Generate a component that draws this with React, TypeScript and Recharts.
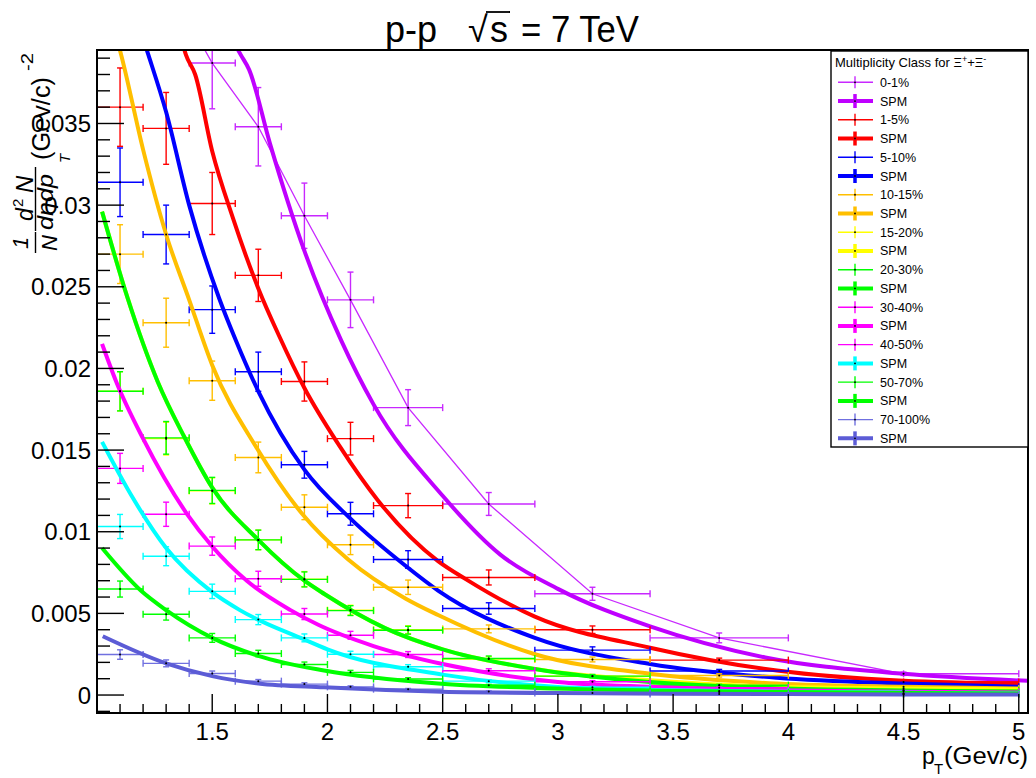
import React from "react"
import { ComposedChart, Line, Scatter, ErrorBar, XAxis, YAxis } from "recharts"

const FONT = "'Liberation Sans', Arial, Helvetica, sans-serif"

// pT bins (GeV/c): centres and x errors
const pT = [1.1, 1.3, 1.5, 1.7, 1.9, 2.1, 2.35, 2.7, 3.15, 3.7, 4.5]
const pTErrLow = [0.1, 0.1, 0.1, 0.1, 0.1, 0.1, 0.15, 0.2, 0.25, 0.3, 0]
const pTErrHigh = [0.1, 0.1, 0.1, 0.1, 0.1, 0.1, 0.15, 0.2, 0.25, 0.3, 0.5]

// measured yields and y errors per multiplicity class
const y0_1 = [0.05, 0.0437, 0.0387, 0.0348, 0.02935, 0.0242, 0.0176, 0.0117, 0.0062, 0.0035, 0.0013]
const e0_1 = [0.0035, 0.0032, 0.0028, 0.0024, 0.002, 0.0017, 0.0011, 0.0007, 0.0004, 0.0003, 0.0001]
const y1_5 = [0.036, 0.0347, 0.0301, 0.0257, 0.0192, 0.0157, 0.0116, 0.0072, 0.004, 0.00214, 0.0008]
const e1_5 = [0.0024, 0.0022, 0.0019, 0.0016, 0.0012, 0.001, 0.00074, 0.00046, 0.00023, 0.00012, 0.0001]
const y5_10 = [0.0314, 0.0282, 0.0236, 0.0198, 0.0141, 0.0111, 0.0083, 0.0053, 0.00275, 0.00147, 0.0005]
const e5_10 = [0.0021, 0.0018, 0.00145, 0.0012, 0.00082, 0.0007, 0.00054, 0.00035, 0.0002, 0.0001, 0.00005]
const y10_15 = [0.027, 0.0228, 0.01925, 0.01455, 0.0115, 0.0092, 0.0066, 0.00405, 0.00218, 0.0012, 0.0004]
const e10_15 = [0.0018, 0.0015, 0.0012, 0.00094, 0.00076, 0.0006, 0.00044, 0.00024, 0.00015, 0.0001, 0.00005]
const y15_20 = [0.0186, 0.0157, 0.0125, 0.0095, 0.0071, 0.0052, 0.004, 0.0022, 0.00115, 0.0006, 0.0003]
const e15_20 = [0.0012, 0.001, 0.0008, 0.0006, 0.00046, 0.0003, 0.00024, 0.00015, 0.0001, 0.00006, 0.00003]
const y20_30 = [0.0186, 0.01575, 0.01253, 0.0095, 0.00708, 0.00517, 0.00397, 0.00224, 0.00116, 0.0006, 0.0003]
const e20_30 = [0.0012, 0.001, 0.0008, 0.0006, 0.00046, 0.0003, 0.00024, 0.00015, 0.0001, 0.00006, 0.00003]
const y30_40 = [0.01388, 0.01107, 0.00912, 0.00712, 0.00496, 0.00366, 0.00248, 0.00149, 0.00081, 0.00045, 0.0002]
const e30_40 = [0.00092, 0.00074, 0.00056, 0.00046, 0.00034, 0.00024, 0.00018, 0.00012, 0.00007, 0.00004, 0.00002]
const y40_50 = [0.01032, 0.0085, 0.00635, 0.00462, 0.0035, 0.0025, 0.00173, 0.00085, 0.00048, 0.00025, 0.0001]
const e40_50 = [0.00074, 0.00058, 0.00044, 0.00031, 0.00024, 0.00018, 0.00013, 0.00008, 0.00005, 0.00003, 0.00001]
const y50_70 = [0.00649, 0.00495, 0.0035, 0.00254, 0.00187, 0.00139, 0.00098, 0.0006, 0.00034, 0.00018, 0.00008]
const e50_70 = [0.00049, 0.00036, 0.00027, 0.0002, 0.00015, 0.00012, 0.00008, 0.00005, 0.00003, 0.00002, 0.00001]
const y70_100 = [0.00248, 0.00194, 0.00132, 0.00085, 0.00067, 0.0005, 0.00036, 0.00022, 0.00013, 0.00007, 0.00003]
const e70_100 = [0.00029, 0.00021, 0.00015, 0.0001, 0.00008, 0.00006, 0.00004, 0.00003, 0.00002, 0.00001, 0.00001]

// SPM curves
const spm0_1X = [1.55, 1.624, 1.66, 1.75, 1.9, 2.06, 2.2, 2.5, 2.75, 3.0, 3.4, 3.9, 4.5, 5.04]
const spm0_1Y = [0.0411, 0.0392, 0.0383, 0.0338, 0.0272, 0.0217, 0.0178, 0.0122, 0.0086, 0.0065, 0.0042, 0.0023, 0.0013, 0.00087]
const spm1_5X = [1.36, 1.386, 1.426, 1.5, 1.59, 1.7, 1.79, 1.9, 2.05, 2.22, 2.48, 2.6, 2.9, 3.4, 3.95, 4.5, 5.0]
const spm1_5Y = [0.0405, 0.0392, 0.038, 0.0333, 0.0292, 0.0249, 0.022, 0.0188, 0.0153, 0.0119, 0.0082, 0.0071, 0.0048, 0.0029, 0.0015, 0.00087, 0.0007]
const spm5_10X = [1.2, 1.223, 1.3, 1.4, 1.53, 1.6, 1.7, 1.9, 2.1, 2.34, 2.48, 2.9, 3.4, 3.95, 4.5, 5.0]
const spm5_10Y = [0.0402, 0.0392, 0.0357, 0.03, 0.0243, 0.0218, 0.0186, 0.0138, 0.0108, 0.0079, 0.0064, 0.0035, 0.0019, 0.00106, 0.0007, 0.0005]
const spm10_15X = [1.09, 1.105, 1.2, 1.3, 1.4, 1.5, 1.69, 1.89, 2.09, 2.34, 2.48, 2.9, 3.4, 3.95, 4.5, 5.0]
const spm10_15Y = [0.04, 0.0392, 0.0334, 0.0282, 0.0242, 0.0202, 0.0152, 0.0111, 0.0083, 0.0059, 0.0049, 0.0025, 0.0013, 0.0007, 0.0005, 0.0004]
const spm15_20X = [1.022, 1.133, 1.263, 1.379, 1.5, 1.7, 1.9, 1.985, 2.25, 2.5, 2.9, 3.4, 3.95, 4.5, 5.0]
const spm15_20Y = [0.0296, 0.0243, 0.0192, 0.0158, 0.0127, 0.0095, 0.007, 0.0062, 0.0041, 0.0028, 0.0016, 0.0009, 0.0005, 0.0004, 0.00035]
const spm20_30X = [1.022, 1.133, 1.263, 1.379, 1.5, 1.7, 1.9, 1.985, 2.25, 2.5, 2.9, 3.4, 3.95, 4.5, 5.0]
const spm20_30Y = [0.0296, 0.0243, 0.0192, 0.0158, 0.0127, 0.0095, 0.007, 0.0062, 0.0041, 0.0028, 0.0016, 0.0008, 0.00041, 0.00028, 0.0002]
const spm30_40X = [1.022, 1.083, 1.2, 1.39, 1.5, 1.65, 1.84, 1.96, 2.2, 2.5, 3.0, 3.4, 3.95, 4.5, 5.0]
const spm30_40Y = [0.0215, 0.0192, 0.0157, 0.0111, 0.0091, 0.007, 0.0052, 0.0043, 0.003, 0.0019, 0.0008, 0.0005, 0.0003, 0.0002, 0.00015]
const spm40_50X = [1.022, 1.15, 1.3, 1.5, 1.62, 1.9, 2.0, 2.5, 3.0, 3.5, 4.0, 4.5, 5.0]
const spm40_50Y = [0.0155, 0.0122, 0.009, 0.0063, 0.0052, 0.0034, 0.0028, 0.00125, 0.0005, 0.0003, 0.0002, 0.00015, 0.0001]
const spm50_70X = [1.022, 1.19, 1.3, 1.5, 1.7, 1.985, 2.48, 3.0, 3.5, 4.0, 4.5, 5.0]
const spm50_70Y = [0.009, 0.0064, 0.0052, 0.0035, 0.0024, 0.0015, 0.0007, 0.0004, 0.00025, 0.00018, 0.00013, 0.0001]
const spm70_100X = [1.025, 1.3, 1.5, 1.7, 1.985, 2.5, 3.0, 3.5, 4.0, 4.5, 5.0]
const spm70_100Y = [0.0036, 0.00194, 0.00116, 0.00071, 0.00047, 0.0002, 0.00012, 0.00008, 0.00006, 0.00004, 0.00003]

const VIOLET = "#bf00ff"
const RED = "#ff0000"
const BLUE = "#0000ff"
const ORANGE = "#ffbf00"
const YELLOW = "#ffff00"
const GREEN = "#00ff00"
const MAGENTA = "#ff00ff"
const CYAN = "#00ffff"
const SLATE = "#5c5cd6"

interface ClassDef {
  name: string
  color: string
  spmColor: string
  legendColor: string
  y: number[]
  e: number[]
  sx: number[]
  sy: number[]
  joined?: boolean
}

const classes: ClassDef[] = [
  { name: "0-1%", color: "#c828ff", spmColor: VIOLET, legendColor: "#c828ff", y: y0_1, e: e0_1, sx: spm0_1X, sy: spm0_1Y, joined: true },
  { name: "1-5%", color: RED, spmColor: RED, legendColor: RED, y: y1_5, e: e1_5, sx: spm1_5X, sy: spm1_5Y },
  { name: "5-10%", color: BLUE, spmColor: BLUE, legendColor: BLUE, y: y5_10, e: e5_10, sx: spm5_10X, sy: spm5_10Y },
  { name: "10-15%", color: ORANGE, spmColor: ORANGE, legendColor: ORANGE, y: y10_15, e: e10_15, sx: spm10_15X, sy: spm10_15Y },
  { name: "15-20%", color: YELLOW, spmColor: YELLOW, legendColor: YELLOW, y: y15_20, e: e15_20, sx: spm15_20X, sy: spm15_20Y },
  { name: "20-30%", color: GREEN, spmColor: GREEN, legendColor: GREEN, y: y20_30, e: e20_30, sx: spm20_30X, sy: spm20_30Y },
  { name: "30-40%", color: MAGENTA, spmColor: MAGENTA, legendColor: MAGENTA, y: y30_40, e: e30_40, sx: spm30_40X, sy: spm30_40Y },
  { name: "40-50%", color: CYAN, spmColor: CYAN, legendColor: MAGENTA, y: y40_50, e: e40_50, sx: spm40_50X, sy: spm40_50Y },
  { name: "50-70%", color: GREEN, spmColor: GREEN, legendColor: GREEN, y: y50_70, e: e50_70, sx: spm50_70X, sy: spm50_70Y },
  { name: "70-100%", color: "#7070e0", spmColor: SLATE, legendColor: "#7070e0", y: y70_100, e: e70_100, sx: spm70_100X, sy: spm70_100Y },
]

const PLOT = { left: 97, right: 1028, top: 50, bottom: 713 }

const xTicks: number[] = []
for (let i = 11; i <= 50; i++) xTicks.push(i / 10)
const yTicks: number[] = []
for (let i = -1; i <= 39; i++) yTicks.push(i / 1000)

function XTick(props: any) {
  const { x, payload } = props
  const v = payload.value
  const major = Math.abs(v * 2 - Math.round(v * 2)) < 1e-6
  return (
    <g>
      <line x1={x} x2={x} y1={PLOT.bottom} y2={PLOT.bottom - (major ? 19 : 9)} stroke="#000" strokeWidth={1.4} />
      {major && (
        <text x={x} y={740} textAnchor="middle" fontSize={24} fontFamily={FONT} fill="#000">
          {String(v)}
        </text>
      )}
    </g>
  )
}

function YTick(props: any) {
  const { y, payload } = props
  const v = payload.value
  const major = Math.abs(v * 200 - Math.round(v * 200)) < 1e-6
  return (
    <g>
      <line x1={PLOT.left} x2={PLOT.left + (major ? 27 : 13)} y1={y} y2={y} stroke="#000" strokeWidth={1.4} />
      {major && (
        <text x={91} y={y + 8.5} textAnchor="end" fontSize={24} fontFamily={FONT} fill="#000">
          {String(Number(v.toFixed(3)))}
        </text>
      )}
    </g>
  )
}

const dot = (props: any) => <circle cx={props.cx} cy={props.cy} r={1} fill="#000" />

function LegendBox() {
  const x0 = 831
  const top = 51
  const rows: { label: string; color: string; spm: boolean }[] = []
  classes.forEach((c) => {
    rows.push({ label: c.name, color: c.legendColor, spm: false })
    rows.push({ label: "SPM", color: c.spmColor, spm: true })
  })
  return (
    <g fontFamily={FONT}>
      <rect x={x0} y={top} width={197} height={396} fill="#fff" stroke="#000" strokeWidth={1.4} />
      <text x={835} y={67} fontSize={13} fill="#000">
        Multiplicity Class for Ξ<tspan dy={-5} fontSize={9}>+</tspan>
        <tspan dy={5}>+Ξ</tspan>
        <tspan dy={-5} fontSize={9}>-</tspan>
      </text>
      {rows.map((r, i) => {
        const cy = 82.3 + i * 18.74
        return (
          <g key={i}>
            <line x1={838} x2={873} y1={cy} y2={cy} stroke={r.color} strokeWidth={r.spm ? 4 : 1.4} />
            <line x1={855} x2={855} y1={cy - (r.spm ? 7 : 6)} y2={cy + (r.spm ? 7 : 6)} stroke={r.color} strokeWidth={r.spm ? 3.5 : 1.4} />
            <circle cx={855} cy={cy} r={0.9} fill="#000" />
            <text x={880} y={cy + 4.5} fontSize={12.5} fill="#000">
              {r.label}
            </text>
          </g>
        )
      })}
    </g>
  )
}

function Overlay() {
  return (
    <svg width={1036} height={778} style={{ position: "absolute", left: 0, top: 0, pointerEvents: "none" }}>
      <defs>
        <clipPath id="plotAreaClip" clipPathUnits="userSpaceOnUse">
          <rect x={PLOT.left} y={PLOT.top} width={PLOT.right - PLOT.left} height={PLOT.bottom - PLOT.top} />
        </clipPath>
      </defs>
      <rect x={PLOT.left} y={PLOT.top} width={PLOT.right - PLOT.left} height={PLOT.bottom - PLOT.top} fill="none" stroke="#000" strokeWidth={2} />
      {/* title */}
      <g fontFamily={FONT} fontSize={36} fill="#000">
        <text x={385} y={42}>p-p</text>
        <text x={468} y={42}>√</text>
        <text x={490} y={42}>s</text>
        <line x1={486} x2={510} y1={12} y2={12} stroke="#000" strokeWidth={1.8} />
        <text x={521} y={42} textLength={118} lengthAdjust="spacingAndGlyphs">= 7 TeV</text>
      </g>
      {/* y axis title, rotated */}
      <g fontFamily={FONT} fill="#000">
        <text x={28} y={249} fontSize={22} fontStyle="italic" transform="rotate(-90 28 249)">1</text>
        <line x1={35.5} x2={35.5} y1={232} y2={253} stroke="#000" strokeWidth={1.4} />
        <text x={57} y={251} fontSize={22} fontStyle="italic" transform="rotate(-90 57 251)">N</text>
        <text x={33} y={221} fontSize={23} fontStyle="italic" transform="rotate(-90 33 221)">d</text>
        <text x={23} y={207} fontSize={15} transform="rotate(-90 23 207)">2</text>
        <text x={33} y={193} fontSize={24} fontStyle="italic" transform="rotate(-90 33 193)">N</text>
        <line x1={35.5} x2={35.5} y1={167} y2={231} stroke="#000" strokeWidth={1.4} />
        <text x={53} y={230} fontSize={22} fontStyle="italic" textLength={56} lengthAdjust="spacingAndGlyphs" transform="rotate(-90 53 230)">dηdp</text>
        <text x={70} y={163} fontSize={15} fontStyle="italic" transform="rotate(-90 70 163)">T</text>
        <text x={50} y={160} fontSize={25} textLength={83} lengthAdjust="spacingAndGlyphs" transform="rotate(-90 50 160)">(Gev/c)</text>
        <text x={33} y={71} fontSize={17} textLength={18} lengthAdjust="spacingAndGlyphs" transform="rotate(-90 33 71)">-2</text>
      </g>
      {/* x axis title */}
      <g fontFamily={FONT} fill="#000">
        <text x={922} y={764} fontSize={23}>p</text>
        <text x={934} y={774} fontSize={15}>T</text>
        <text x={944} y={764} fontSize={23} textLength={84} lengthAdjust="spacingAndGlyphs">(Gev/c)</text>
      </g>
      <LegendBox />
    </svg>
  )
}

export default function App() {
  const series = classes.map((c) => ({
    ...c,
    points: pT.map((x, i) => ({ x, y: c.y[i], ex: [pTErrLow[i], pTErrHigh[i]], ey: c.e[i] })),
    curve: c.sx.map((x, i) => ({ x, y: c.sy[i] })),
  }))

  return (
    <div style={{ position: "absolute", left: 0, top: 0, width: 1036, height: 778, background: "#fff" }}>
      <style>{`.recharts-scatter, .recharts-errorBar, .recharts-errorBars { clip-path: url(#plotAreaClip); }`}</style>
      <ComposedChart width={1036} height={778} margin={{ top: 50, right: 8, bottom: 0, left: 0 }}>
        <XAxis
          type="number"
          dataKey="x"
          domain={[1.0, 5.04]}
          allowDataOverflow
          ticks={xTicks}
          interval={0}
          tick={<XTick />}
          tickLine={false}
          axisLine={false}
          height={65}
        />
        <YAxis
          type="number"
          domain={[-0.0011, 0.0395]}
          allowDataOverflow
          ticks={yTicks}
          interval={0}
          tick={<YTick />}
          tickLine={false}
          axisLine={false}
          width={97}
        />
        {series.flatMap((s) => {
          const items = [
            <Scatter key={`pts-${s.name}`} data={s.points} dataKey="y" shape={dot} isAnimationActive={false}>
              <ErrorBar dataKey="ex" direction="x" width={3.5} stroke={s.color} strokeWidth={1.4} isAnimationActive={false} />
              <ErrorBar dataKey="ey" direction="y" width={3} stroke={s.color} strokeWidth={1.4} isAnimationActive={false} />
            </Scatter>,
          ]
          if (s.joined) {
            items.push(
              <Line key={`join-${s.name}`} data={s.points} dataKey="y" type="linear" stroke={s.color} strokeWidth={1.3} dot={false} isAnimationActive={false} />
            )
          }
          items.push(
            <Line key={`spm-${s.name}`} data={s.curve} dataKey="y" type="monotone" stroke={s.spmColor} strokeWidth={4} dot={false} isAnimationActive={false} />
          )
          return items
        })}
      </ComposedChart>
      <Overlay />
    </div>
  )
}
